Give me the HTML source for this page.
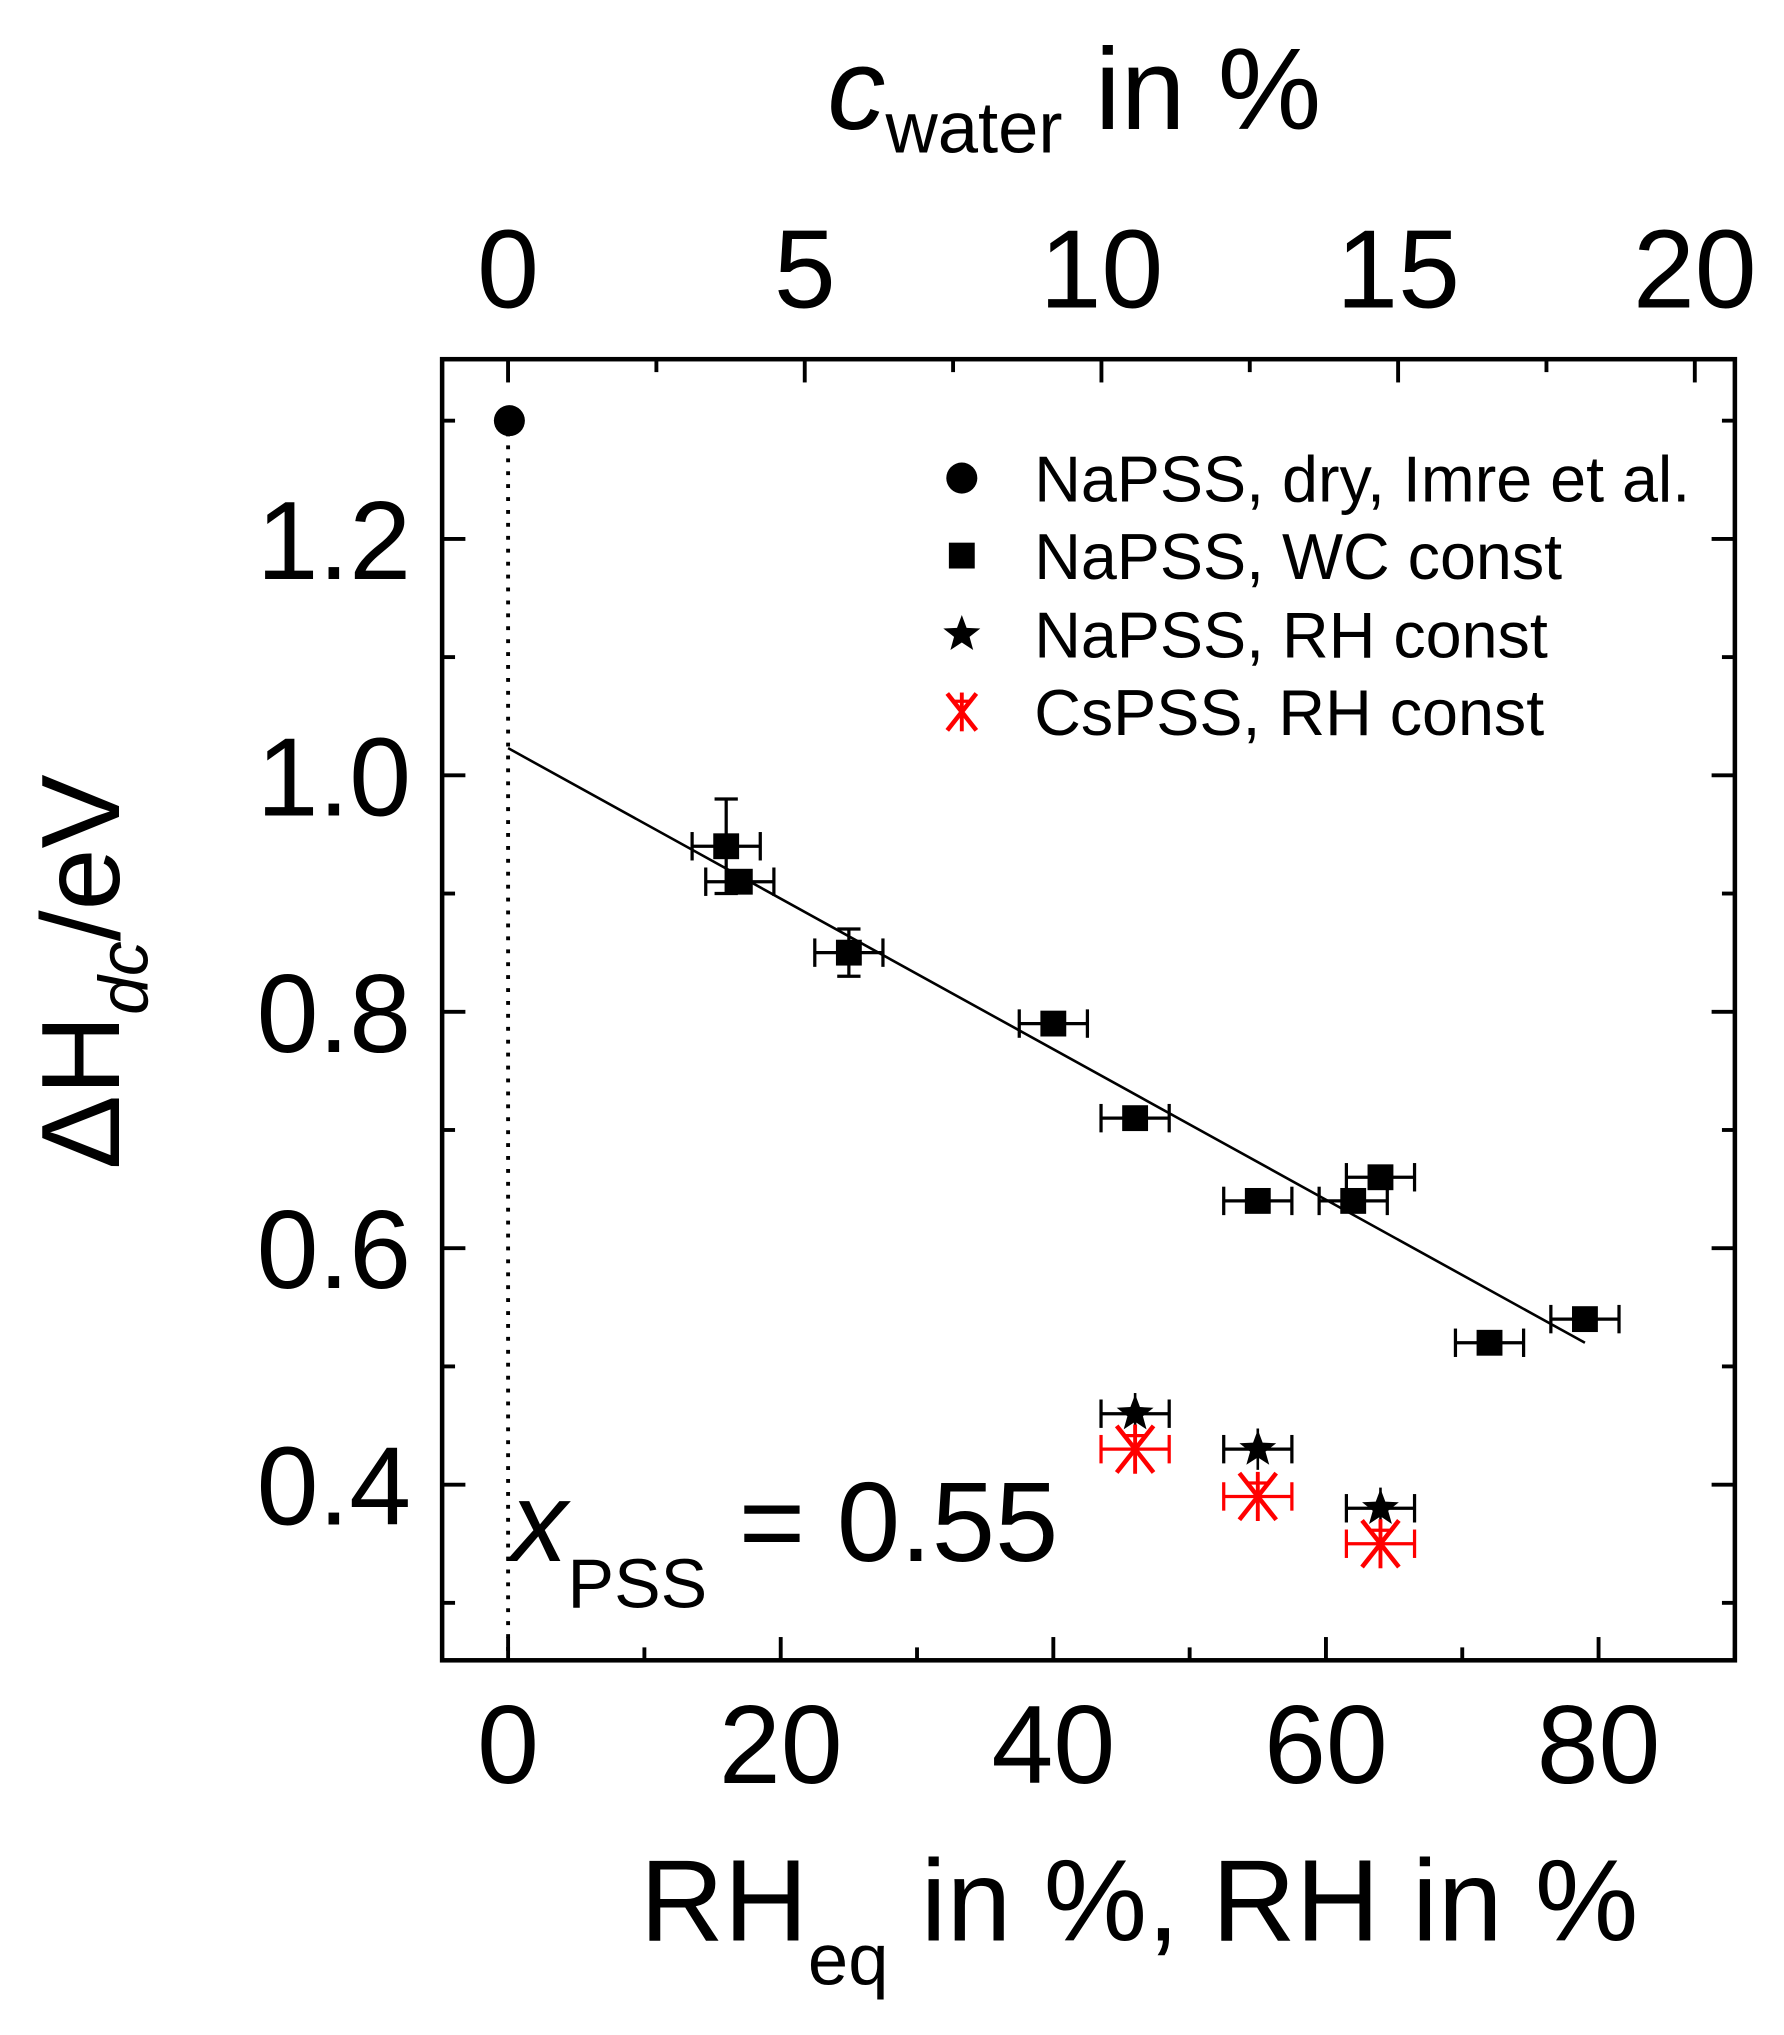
<!DOCTYPE html>
<html><head><meta charset="utf-8"><style>
html,body{margin:0;padding:0;background:#fff;}
svg{display:block;}
text{font-family:"Liberation Sans",sans-serif;fill:#000;}
</style></head><body>
<svg id="chart" width="1784" height="2035" viewBox="0 0 1380 1575" preserveAspectRatio="none" xmlns="http://www.w3.org/2000/svg">
<g id="g"></g>
</svg>
<script>
const xTicks=[0,20,40,60,80];
const topTicks=[0,5,10,15,20];
const yTicks=[0.4,0.6,0.8,1.0,1.2];
const yTickLabels=["0.4","0.6","0.8","1.0","1.2"];
const wcX=[16,17,25,40,46,55,62,64,72,79];
const wcY=[0.94,0.91,0.85,0.79,0.71,0.64,0.64,0.66,0.52,0.54];
const wcXerr=[2.5,2.5,2.5,2.5,2.5,2.5,2.5,2.5,2.5,2.5];
const wcYerr=[0.04,0,0.02,0,0,0,0,0,0,0];
const rhX=[46,55,64];
const rhY=[0.46,0.43,0.38];
const csX=[46,55,64];
const csY=[0.43,0.39,0.35];
const dryX=[0];
const dryY=[1.30];
const fitX=[0,79];
const fitY=[1.023,0.52];

const L=342,R=1342,T=278,B=1285;
const xmin=-4.84,xmax=90,ymin=0.2514,ymax=1.352;
const sx=v=>L+(v-xmin)/(xmax-xmin)*(R-L);
const sy=v=>B-(v-ymin)/(ymax-ymin)*(B-T);
const topScale=v=>393+v*45.9;
const NS="http://www.w3.org/2000/svg";
const g=document.getElementById('g');
function el(tag,attrs,parent){const e=document.createElementNS(NS,tag);for(const k in attrs)e.setAttribute(k,attrs[k]);(parent||g).appendChild(e);return e;}
function line(x1,y1,x2,y2,c,w,p){return el('line',{x1,y1,x2,y2,stroke:c||'#000','stroke-width':w||2},p);}

const fr=el('rect',{x:L,y:T,width:R-L,height:B-T,fill:'none',stroke:'#000','stroke-width':3.5});



for(let v=0;v<=90;v+=10){const x=sx(v);const len=(v%20===0)?18:10;line(x,B,x,B-len,'#000',3);}
for(let v=0;v<=20;v+=2.5){const x=topScale(v);const len=(v%5===0)?18:10;line(x,T,x,T+len,'#000',3);}
for(let v=0.3;v<=1.31;v+=0.1){const y=sy(v);const major=Math.abs((v*10)%2)<0.01||Math.abs((v*10)%2-2)<0.01;const len=major?18:10;line(L,y,L+len,y,'#000',3);line(R,y,R-len,y,'#000',3);}

xTicks.forEach(v=>{const t=el('text',{x:sx(v),y:1380,'font-size':86,'text-anchor':'middle'});t.textContent=v;

});
topTicks.forEach(v=>{const t=el('text',{x:topScale(v),y:238,'font-size':86,'text-anchor':'middle'});t.textContent=v;

});
yTicks.forEach((v,i)=>{const t=el('text',{x:318,y:sy(v)+31,'font-size':86,'text-anchor':'end'});t.textContent=yTickLabels[i];

});

const dl=line(sx(0),sy(1.29),sx(0),B,'#000',3);dl.setAttribute('stroke-dasharray','3,7');



const fit=line(sx(fitX[0]),sy(fitY[0]),sx(fitX[1]),sy(fitY[1]),'#000',2);



function xerr(x,y,e,c){const y0=sy(y);line(sx(x-e),y0,sx(x+e),y0,c,2.5);line(sx(x-e),y0-11,sx(x-e),y0+11,c,2.5);line(sx(x+e),y0-11,sx(x+e),y0+11,c,2.5);}
function yerr(x,y,e,c){if(!e)return;const x0=sx(x);line(x0,sy(y-e),x0,sy(y+e),c,2.5);line(x0-9,sy(y-e),x0+9,sy(y-e),c,2.5);line(x0-9,sy(y+e),x0+9,sy(y+e),c,2.5);}
function starPath(cx,cy,r){let d='';for(let i=0;i<10;i++){const a=-Math.PI/2+i*Math.PI/5;const rr=i%2?r*0.42:r;d+=(i?'L':'M')+(cx+rr*Math.cos(a)).toFixed(1)+','+(cy+rr*Math.sin(a)).toFixed(1);}return d+'Z';}
function asterisk(cx,cy,r,c,p){line(cx,cy-r,cx,cy+r,c,3,p);line(cx-r*0.75,cy-r*0.95,cx+r*0.75,cy+r*0.95,c,3.5,p);line(cx-r*0.75,cy+r*0.95,cx+r*0.75,cy-r*0.95,c,3.5,p);line(cx-r*0.5,cy-r*0.55,cx+r*0.5,cy-r*0.55,c,2.5,p);}

wcX.forEach((x,i)=>{xerr(x,wcY[i],wcXerr[i],'#000');yerr(x,wcY[i],wcYerr[i],'#000');
const r=el('rect',{x:sx(x)-10,y:sy(wcY[i])-10,width:20,height:20,fill:'#000'});

});
rhX.forEach((x,i)=>{xerr(x,rhY[i],2.5,'#000');line(sx(x),sy(rhY[i])-16,sx(x),sy(rhY[i])+16,'#000',2);
const s=el('path',{d:starPath(sx(x),sy(rhY[i]),15),fill:'#000'});

});
csX.forEach((x,i)=>{xerr(x,csY[i],2.5,'#f00');
const gg=el('g',{});

asterisk(sx(x),sy(csY[i]),19,'#f00',gg);});
dryX.forEach((x,i)=>{const c=el('circle',{cx:sx(x)+1,cy:sy(dryY[i]),r:12,fill:'#000'});

});

const leg=el('g',{});

const labels=["NaPSS, dry, Imre et al.","NaPSS, WC const","NaPSS, RH const","CsPSS, RH const"];
const ly=[370,430,491,551];
el('circle',{cx:744,cy:ly[0],r:12,fill:'#000'},leg);
el('rect',{x:734,y:ly[1]-10,width:20,height:20,fill:'#000'},leg);
el('path',{d:starPath(744,ly[2],15),fill:'#000'},leg);
asterisk(744,ly[3],15,'#f00',leg);
labels.forEach((s,i)=>{const t=el('text',{x:800,y:ly[i]+18,'font-size':50},leg);t.textContent=s;

});
</script>
<div style="position:absolute;left:0;top:0;width:1784px;height:2035px;pointer-events:none">
<svg width="1784" height="2035" viewBox="0 0 1380 1575" preserveAspectRatio="none">
<text font-size="90" x="640" y="100"><tspan font-style="italic">c</tspan><tspan font-size="56" dy="18">water</tspan><tspan dy="-18"> in %</tspan></text>
<text font-size="90" x="495" y="1502">RH<tspan font-size="56" dy="34">eq</tspan><tspan dy="-34"> in %, RH in %</tspan></text>
<text font-size="86" transform="translate(92,905) rotate(-90)">ΔH<tspan font-style="italic" font-size="54" dy="22">dc</tspan><tspan dy="-22">/eV</tspan></text>
<text font-size="88" x="395" y="1208"><tspan font-style="italic">x</tspan><tspan font-size="54" dy="36">PSS</tspan><tspan dy="-36"> = 0.55</tspan></text>
</svg></div>
</body></html>
